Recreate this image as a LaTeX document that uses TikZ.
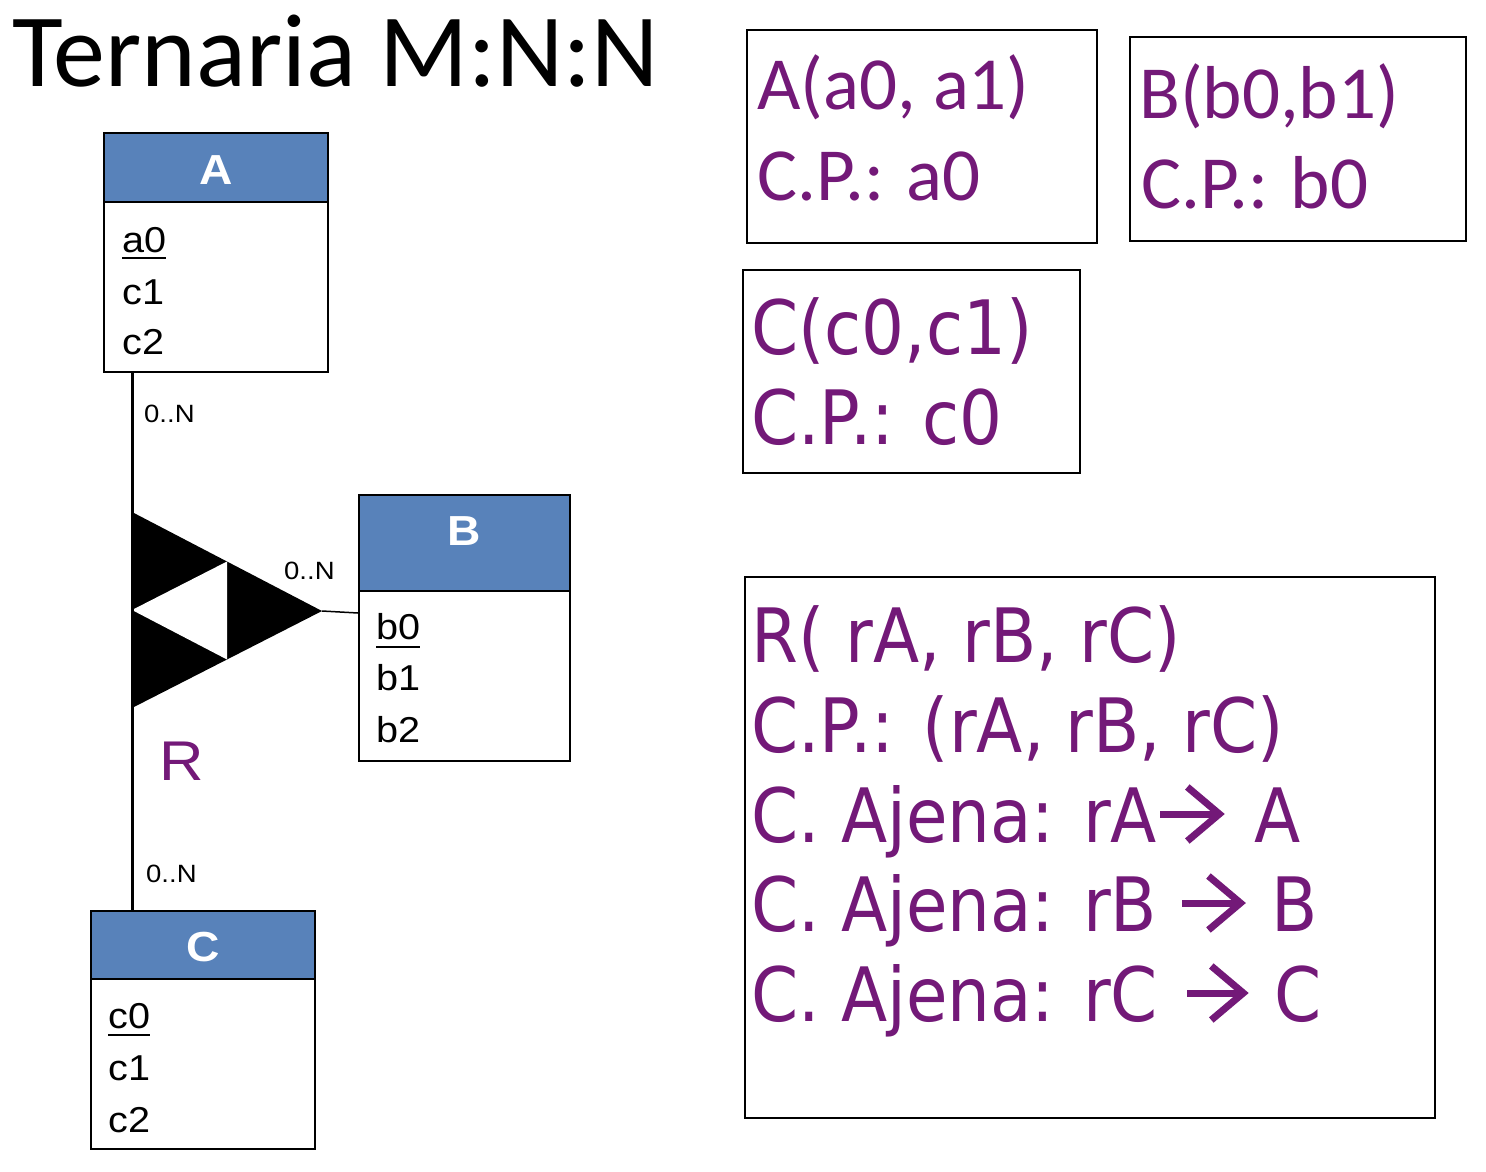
\documentclass[tikz,border=0pt]{standalone}
\usepackage{fontspec}
\setmainfont{Liberation Sans}[FakeStretch=1.1]
\newfontfamily\calib{Carlito}
\newfontfamily\tahom{DejaVu Sans}[FakeStretch=0.9]
\usetikzlibrary{calc}
\definecolor{hdrblue}{RGB}{88,130,186}
\definecolor{purp}{RGB}{115,25,120}
\begin{document}
\begin{tikzpicture}[x=1pt,y=-1pt,
  hdr/.style={draw=black, line width=2pt, fill=hdrblue, inner sep=0pt},
  body/.style={draw=black, line width=2pt, fill=white, inner sep=0pt},
  hdrtxt/.style={text=white, inner sep=0pt, anchor=base, font=\fontsize{42}{42}\selectfont\bfseries},
  attr/.style={inner sep=0pt, anchor=base west, font=\fontsize{36}{36}\selectfont},
  card/.style={inner sep=0pt, anchor=base west, font=\fontsize{25}{25}\selectfont},
  rbox/.style={draw=black, line width=1.8pt, inner sep=0pt},
  calt/.style={inner sep=0pt, anchor=base west, text=purp, font=\calib\fontsize{75}{75}\selectfont},
  taht/.style={inner sep=0pt, anchor=base west, text=purp, font=\tahom\fontsize{75}{75}\selectfont},
  fkarrow/.style={draw=purp, line width=7pt, line join=miter},
  pkline/.style={line width=2.2pt},
  conn/.style={line width=3pt}]
\useasboundingbox[fill=white] (0,0) rectangle (1486,1172);

% title
\node[inner sep=0pt, anchor=base west, font=\calib\fontsize{104}{104}\selectfont] (title) at (12,86) {Ternaria M:N:N};

% entity A
\node[hdr, minimum width=224pt, minimum height=69pt] (Ah) at (216,167.5) {};
\node[body, minimum width=224pt, minimum height=170pt] (Ab) at (216,287) {};
\node[hdrtxt] (Al) at (216,184) {A};
\node[attr] (a0) at (122,252) {a0};
\node[attr] (a1) at (122,304) {c1};
\node[attr] (a2) at (122,354) {c2};
\draw[pkline] ([yshift=-6pt]a0.base west) -- ([yshift=-6pt]a0.base east);

% entity B
\node[hdr, minimum width=211pt, minimum height=96pt] (Bh) at (464.5,543) {};
\node[body, minimum width=211pt, minimum height=170pt] (Bb) at (464.5,676) {};
\node[hdrtxt] (Bl) at (464,545) {B};
\node[attr] (b0) at (376,639) {b0};
\node[attr] (b1) at (376,690) {b1};
\node[attr] (b2) at (376,742) {b2};
\draw[pkline] ([yshift=-8pt]b0.base west) -- ([yshift=-8pt]b0.base east);

% entity C
\node[hdr, minimum width=224pt, minimum height=68pt] (Ch) at (203,945) {};
\node[body, minimum width=224pt, minimum height=170pt] (Cb) at (203,1064) {};
\node[hdrtxt] (Cl) at (203,961) {C};
\node[attr] (c0) at (108,1028) {c0};
\node[attr] (c1) at (108,1080) {c1};
\node[attr] (c2) at (108,1132) {c2};
\draw[pkline] ([yshift=-7pt]c0.base west) -- ([yshift=-7pt]c0.base east);

% relationship symbol
\coordinate (tl) at (132,512);
\coordinate (bl) at (132,708);
\coordinate (tip) at (322,611);
\coordinate (ml) at (132,610);
\coordinate (mt) at (227,561.5);
\coordinate (mb) at (227,659.5);
\fill[black] (tl) -- (tip) -- (bl) -- cycle;
\fill[white] (ml) -- (mt) -- (mb) -- cycle;

% connectors
\draw[conn] (Ab.south -| tl) -- (Ch.north -| tl);
\draw[line width=1.5pt] (tip) -- ($(Bb.north west)+(0,23)$);

% cardinalities
\node[card] (nA) at (144,422) {0..N};
\node[card] (nB) at (284,579) {0..N};
\node[card] (nC) at (146,882) {0..N};

% relationship name
\node[inner sep=0pt, anchor=base west, text=purp, font=\fontsize{56}{56}\selectfont] (Rl) at (159,780) {R};

% right boxes
\node[rbox, minimum width=350pt, minimum height=213pt] (RA) at (922,136.5) {};
\node[calt] (RA1) at (757,110) {A(a0, a1)};
\node[calt] (RA2) at (757,200) {C.P.: a0};

\node[rbox, minimum width=336pt, minimum height=204pt] (RB) at (1298,139) {};
\node[calt] (RB1) at (1139,118) {B(b0,b1)};
\node[calt] (RB2) at (1141,208) {C.P.: b0};

\node[rbox, minimum width=337pt, minimum height=203pt] (RC) at (911.5,371.5) {};
\node[taht] (RC1) at (751,354) {C(c0,c1)};
\node[taht] (RC2) at (751,444) {C.P.: c0};

\node[rbox, minimum width=690pt, minimum height=541pt] (RR) at (1090,847.5) {};
\node[taht] (RR1) at (751,662) {R( rA, rB, rC)};
\node[taht] (RR2) at (751,752) {C.P.: (rA, rB, rC)};

% foreign keys with drawn arrows
\node[taht] (RR3) at (751,842) {C. Ajena: rA};
\coordinate (s3) at ($(RR3.base east)+(3,-28)$);
\coordinate (t3) at ($(s3)+(59,0)$);
\draw[fkarrow] (s3) -- (t3);
\draw[fkarrow] ($(t3)+(-32,-27)$) -- (t3) -- ($(t3)+(-32,27)$);
\node[taht] (RR3b) at (RR3.base east -| t3) [xshift=35pt] {A};

\node[taht] (RR4) at (751,931) {C. Ajena: rB};
\coordinate (s4) at ($(RR4.base east)+(25,-28)$);
\coordinate (t4) at ($(s4)+(58,0)$);
\draw[fkarrow] (s4) -- (t4);
\draw[fkarrow] ($(t4)+(-32,-27)$) -- (t4) -- ($(t4)+(-32,27)$);
\node[taht] (RR4b) at (RR4.base east -| t4) [xshift=31pt] {B};

\node[taht] (RR5) at (751,1021) {C. Ajena: rC};
\coordinate (s5) at ($(RR5.base east)+(29,-28)$);
\coordinate (t5) at ($(s5)+(56,0)$);
\draw[fkarrow] (s5) -- (t5);
\draw[fkarrow] ($(t5)+(-32,-27)$) -- (t5) -- ($(t5)+(-32,27)$);
\node[taht] (RR5b) at (RR5.base east -| t5) [xshift=31pt] {C};
\end{tikzpicture}
\end{document}
